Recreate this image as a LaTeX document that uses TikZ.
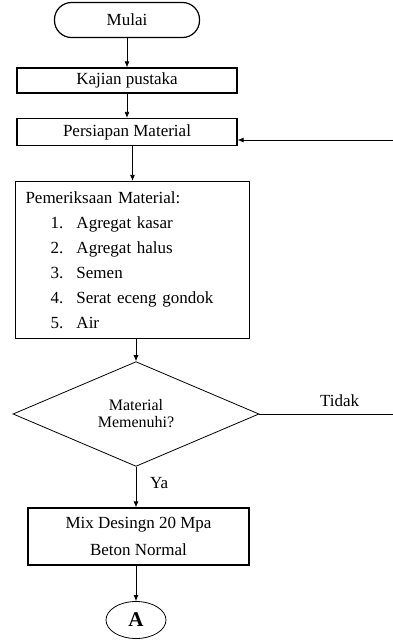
\documentclass[tikz,border=0pt]{standalone}
\usepackage{fontspec}
\setmainfont{Liberation Serif}
\usetikzlibrary{shapes.geometric,arrows.meta}

\tikzset{
    box/.style={draw, line width=1.2pt, inner sep=0pt, align=center},
    arr/.style={-{Latex[length=6pt,width=5pt]}, line width=0.8pt},
    line/.style={line width=0.8pt}
}

\newcommand{\itm}[2]{\hspace*{25pt}\makebox[26pt][l]{#1.}#2}

\begin{document}
\begin{tikzpicture}[x=1pt,y=-1pt]
        \fontsize{17}{20}\selectfont
        \useasboundingbox (0,0) rectangle (393,643);

        \node[box, rounded corners=17pt, minimum width=145pt, minimum height=35pt] (mulai) at (127,20) {Mulai};
        \node[box, minimum width=220pt, minimum height=25pt] (kajian) at (127,80.5) {Kajian pustaka};
        \node[box, minimum width=220pt, minimum height=27pt] (persiapan) at (127,132) {Persiapan Material};

        \node[box, text width=214pt, inner sep=10pt, align=left, minimum height=152pt,
              font=\fontsize{17}{25}\selectfont] (periksa) at (132.5,260) {Pemeriksaan Material:\\
            \itm{1}{Agregat kasar}\\
            \itm{2}{Agregat halus}\\
            \itm{3}{Semen}\\
            \itm{4}{Serat eceng gondok}\\
            \itm{5}{Air}};

        \node[diamond, draw, line width=0.8pt, minimum width=246pt, minimum height=99pt, inner sep=0pt,
              align=center, font=\fontsize{16}{17}\selectfont] (dia) at (136,414) {Material\\Memenuhi?};

        \node[box, minimum width=221pt, minimum height=57pt,
              font=\fontsize{17}{27}\selectfont] (mix) at (138.5,536.5) {Mix Desingn 20 Mpa\\Beton Normal};

        \node[ellipse, draw, line width=0.8pt, minimum width=60pt, minimum height=37pt, inner sep=0pt,
              font=\fontsize{21}{24}\selectfont\bfseries] (a) at (136,620) {A};

        \coordinate (back) at (393,140);
        \coordinate (tidak) at (393,414);

        \draw[arr] (mulai.south -| kajian.north) -- (kajian.north);
        \draw[arr] (kajian) -- (persiapan);
        \draw[arr] (persiapan.south -| periksa.north) -- (periksa.north);
        \draw[arr] (periksa.south -| dia.north) -- (dia.north);
        \draw[arr] (dia.south) -- node[right=8pt, pos=0.4] (ya) {Ya} (dia.south |- mix.north);
        \draw[arr] (mix.south -| a.north) -- (a.north);
        \draw[arr] (back) -- (back -| persiapan.east);
        \draw[line] (dia.east) -- node[above=1pt, pos=0.6] (tdk) {Tidak} (tidak);
    \end{tikzpicture}
\end{document}
